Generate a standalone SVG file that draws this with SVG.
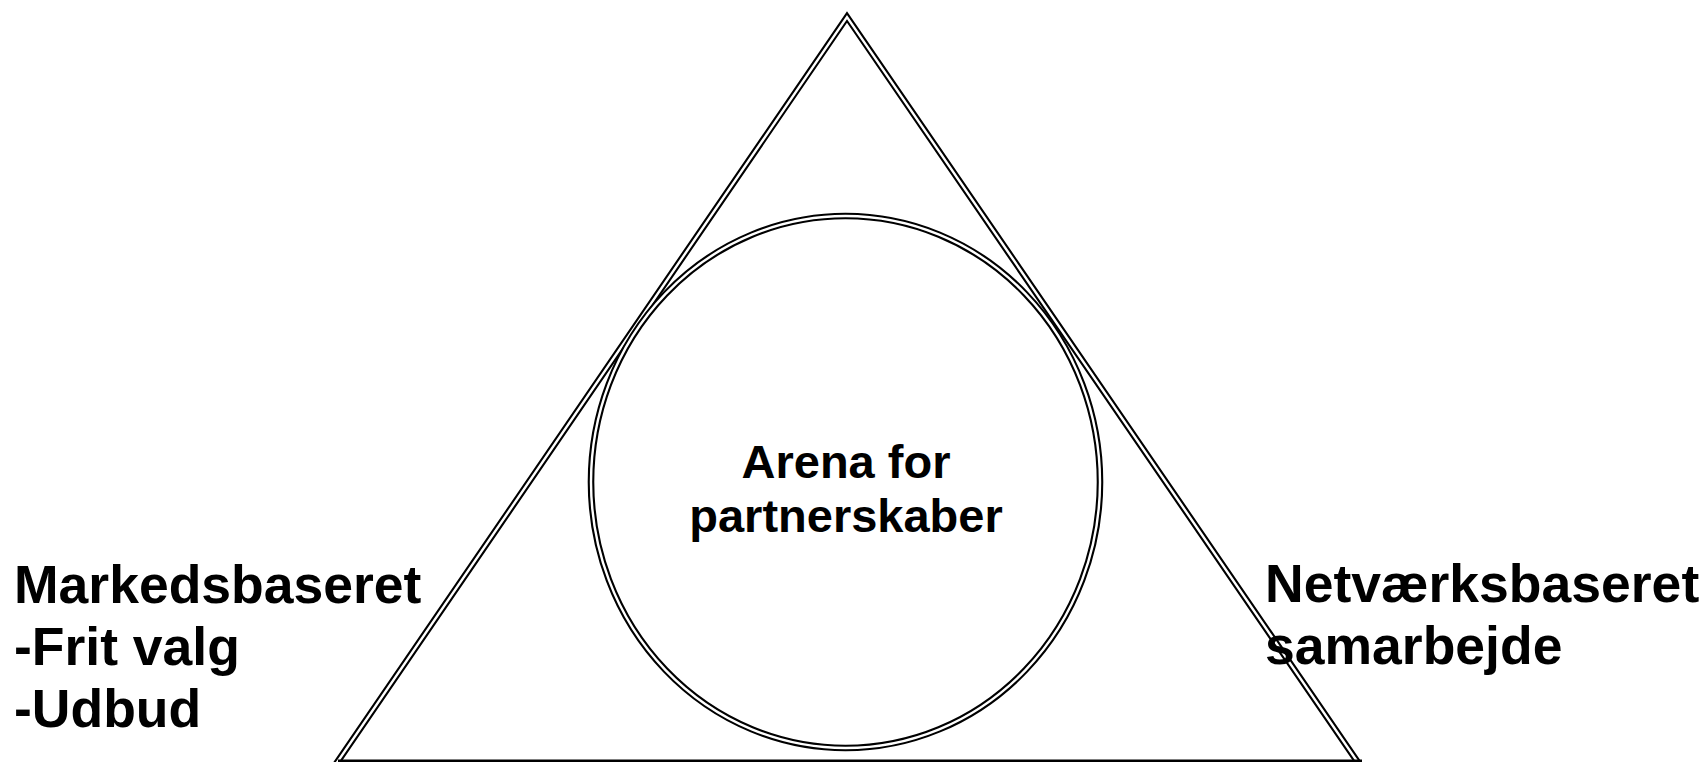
<svg xmlns="http://www.w3.org/2000/svg" width="1708" height="762" viewBox="0 0 1708 762">
<style>
.outer{fill:none;stroke:#000;stroke-width:6.6}
.inner{fill:none;stroke:#fff;stroke-width:2.4}
.lbl{font-family:"Liberation Sans",Arial,sans-serif;font-weight:bold;fill:#000}
</style>
<rect width="1708" height="762" fill="#fff"/>
<g id="triangle">
<path class="outer" d="M336,764 L847,17 L1359,764" stroke-linejoin="miter"/>
<path class="inner" d="M336,764 L847,17 L1359,764" stroke-linejoin="miter"/>
<line x1="338" y1="761" x2="1362" y2="761" stroke="#000" stroke-width="3"/>
</g>
<g id="circle">
<ellipse class="outer" cx="845.5" cy="482" rx="254.5" ry="266"/>
<ellipse class="inner" cx="845.5" cy="482" rx="254.5" ry="266"/>
<text class="lbl" x="846" y="478" font-size="47" text-anchor="middle">Arena for</text>
<text class="lbl" x="846" y="532" font-size="47" text-anchor="middle">partnerskaber</text>
</g>
<g id="left-label">
<text class="lbl" x="14" y="603" font-size="53.5">Markedsbaseret</text>
<text class="lbl" x="14" y="665" font-size="53.5">-Frit valg</text>
<text class="lbl" x="14" y="727" font-size="53.5">-Udbud</text>
</g>
<g id="right-label">
<text class="lbl" x="1265" y="602" font-size="53.5">Netværksbaseret</text>
<text class="lbl" x="1265" y="664" font-size="53.5">samarbejde</text>
</g>
<g id="connectors"></g>
</svg>
